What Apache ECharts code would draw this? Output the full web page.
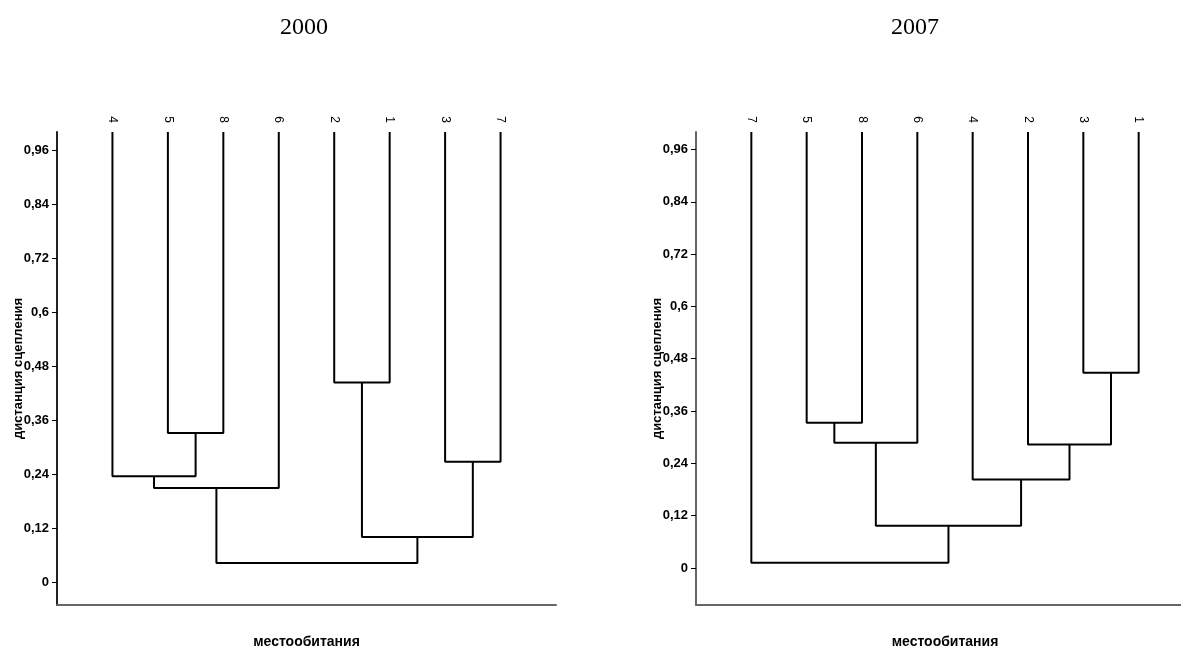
<!DOCTYPE html>
<html>
<head>
<meta charset="utf-8">
<script src="https://cdn.jsdelivr.net/npm/echarts@6/dist/echarts.min.js"></script>
<style>html,body{margin:0;padding:0;background:#fff;}#c{width:1181px;height:648px;}</style>
</head>
<body>
<div id="c"></div>
<script>
// ---- data ----
const titles = ['2000', '2007'];
const yTicks = [0, 0.12, 0.24, 0.36, 0.48, 0.6, 0.72, 0.84, 0.96];
const yTickLabels = ['0', '0,12', '0,24', '0,36', '0,48', '0,6', '0,72', '0,84', '0,96'];
const yName = 'дистанция сцепления';
const xName = 'местообитания';

// leaf order (left to right)
const leaves2000 = ['4', '5', '8', '6', '2', '1', '3', '7'];
const leaves2007 = ['7', '5', '8', '6', '4', '2', '3', '1'];

// merges: [left child, right child, linkage distance]; 'mN' refers to merge N
const merges2000 = [
  ['5', '8', 0.332],
  ['4', 'm0', 0.236],
  ['m1', '6', 0.210],
  ['2', '1', 0.444],
  ['3', '7', 0.268],
  ['m3', 'm4', 0.101],
  ['m2', 'm5', 0.043]
];
const merges2007 = [
  ['5', '8', 0.333],
  ['m0', '6', 0.287],
  ['3', '1', 0.448],
  ['2', 'm2', 0.283],
  ['4', 'm3', 0.203],
  ['m1', 'm4', 0.097],
  ['7', 'm5', 0.012]
];
const yMin = [-0.05, -0.085];
const yMax = 1.0;

// ---- build ----
function buildLinks(leaves, merges) {
  const node = {};
  leaves.forEach((l, i) => { node[l] = { x: i + 1, h: yMax }; });
  const out = [];
  merges.forEach((m, i) => {
    const a = node[m[0]], b = node[m[1]], h = m[2];
    out.push([[a.x, a.h], [a.x, h], [b.x, h], [b.x, b.h]]);
    node['m' + i] = { x: (a.x + b.x) / 2, h: h };
  });
  return out;
}

const grids = [
  { left: 57, top: 132, width: 499, height: 473, outerBoundsMode: 'none', containLabel: false },
  { left: 696, top: 132, width: 498, height: 473, outerBoundsMode: 'none', containLabel: false }
];
const allLeaves = [leaves2000, leaves2007];
const allMerges = [merges2000, merges2007];

const titleStyle = { fontFamily: 'Liberation Serif', fontSize: 24, fontWeight: 'normal', color: '#000' };
const option = {
  animation: false,
  backgroundColor: '#fff',
  title: [
    { text: titles[0], left: 299, top: 11, textAlign: 'center', textStyle: titleStyle },
    { text: titles[1], left: 910, top: 11, textAlign: 'center', textStyle: titleStyle }
  ],
  grid: grids,
  xAxis: [],
  yAxis: [],
  series: []
};

[0, 1].forEach(g => {
  const leaves = allLeaves[g];
  // bottom axis
  option.xAxis.push({
    type: 'value', gridIndex: g, min: 0, max: 9, position: 'bottom',
    axisLine: { show: true, onZero: false, lineStyle: { color: '#666', width: 2 } },
    axisTick: { show: false }, axisLabel: { show: false }, splitLine: { show: false },
    name: xName, nameLocation: 'middle', nameGap: 30, nameMoveOverlap: false,
    nameTextStyle: { fontFamily: 'Arial, Liberation Sans', fontWeight: 'bold', fontSize: 14, color: '#000' }
  });
  // top labels axis
  option.xAxis.push({
    type: 'value', gridIndex: g, min: 0, max: 9, position: 'top',
    axisLine: { show: false, onZero: false }, axisTick: { show: false }, splitLine: { show: false },
    axisLabel: {
      show: true, rotate: 90, margin: 9,
      customValues: leaves.map((l, i) => i + 1),
      formatter: v => leaves[Math.round(v) - 1] || '',
      fontFamily: 'Arial, Liberation Sans', fontSize: 12, color: '#000'
    }
  });
  option.yAxis.push({
    type: 'value', gridIndex: g, min: yMin[g], max: yMax,
    axisLine: { show: true, onZero: false, lineStyle: { color: g === 0 ? '#222' : '#666', width: 2 } },
    axisTick: { show: true, length: 5, customValues: yTicks, lineStyle: { color: '#000', width: 1 } },
    axisLabel: {
      show: true, margin: 8, customValues: yTicks,
      formatter: v => { const i = yTicks.findIndex(t => Math.abs(t - v) < 1e-6); return i >= 0 ? yTickLabels[i] : ''; },
      fontFamily: 'Arial, Liberation Sans', fontWeight: 'bold', fontSize: 13, color: '#000'
    },
    splitLine: { show: false },
    name: yName, nameLocation: 'middle', nameGap: 32, nameRotate: 90, nameMoveOverlap: false,
    nameTextStyle: { fontFamily: 'Arial, Liberation Sans', fontWeight: 'bold', fontSize: 13, color: '#000' }
  });
  buildLinks(leaves, allMerges[g]).forEach(link => {
    option.series.push({
      type: 'line', xAxisIndex: g * 2, yAxisIndex: g, data: link,
      symbol: 'none', silent: true,
      lineStyle: { color: '#000', width: 2 }
    });
  });
});

const chart = echarts.init(document.getElementById('c'), null, { renderer: 'canvas' });
chart.setOption(option);
</script>
</body>
</html>
